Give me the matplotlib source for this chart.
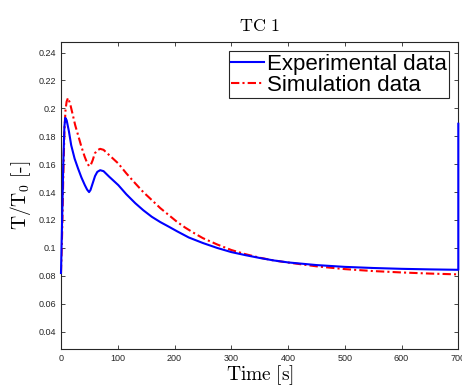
import matplotlib
matplotlib.use("Agg")
import matplotlib.pyplot as plt

# experimental data (blue)
t_exp = [0, 2, 4, 6, 7.6, 10, 14, 18, 24, 30, 36, 42, 46, 49.5, 52, 56, 60, 64,
         69, 75, 85, 101, 115, 131, 145, 160, 175, 190, 205, 225, 250, 275, 300,
         325, 350, 375, 400, 450, 500, 550, 600, 650, 700, 700]
y_exp = [0.082, 0.12, 0.16, 0.187, 0.1932, 0.1915, 0.1835, 0.1736, 0.164, 0.157,
         0.1505, 0.145, 0.1418, 0.140, 0.1415, 0.1465, 0.1515, 0.1545,
         0.1557, 0.155, 0.151, 0.145, 0.1385, 0.132, 0.127, 0.1223, 0.1185,
         0.1152, 0.1118, 0.1075, 0.1035, 0.100, 0.097,
         0.0948, 0.0928, 0.091, 0.0896, 0.0877, 0.0864, 0.0856, 0.085, 0.0846,
         0.0843, 0.189]

# simulation data (red)
t_sim = [0, 2, 4, 6, 8, 10, 12.4, 16, 21, 25, 30, 36, 41.8, 46, 49.5, 52, 56,
         59.5, 64, 69, 75, 85, 101, 115, 131, 145, 160, 175, 190, 205, 219, 235,
         250, 275, 300, 325, 350, 375, 400, 450, 500, 550, 600, 650, 700]
y_sim = [0.082, 0.11, 0.15, 0.183, 0.199, 0.205, 0.2075, 0.2035, 0.195, 0.188,
         0.181, 0.1725, 0.1653, 0.161, 0.1586, 0.159, 0.163,
         0.1677, 0.170, 0.171, 0.1703, 0.1665, 0.1605, 0.1535, 0.1462, 0.140,
         0.1343, 0.1285, 0.1235, 0.1185, 0.1145, 0.1105,
         0.107, 0.1025, 0.0985, 0.0955, 0.093, 0.091, 0.0895, 0.0868, 0.0848,
         0.0834, 0.0824, 0.0816, 0.081]

plt.rcParams['mathtext.fontset'] = 'cm'
plt.rcParams['font.family'] = 'Liberation Sans'

fig = plt.figure(figsize=(4.62, 3.90), dpi=100)
ax = fig.add_axes([0.132, 0.105, 0.860, 0.787])

ax.plot(t_exp, y_exp, color='#0000ff', linewidth=1.5, label='Experimental data',
        clip_on=False, zorder=5)
ax.plot(t_sim, y_sim, color='#ff0000', linestyle='-.', linewidth=1.5,
        dashes=(4, 1.5, 1, 1.5), label='Simulation data')

ax.set_xlim(0, 700)
ax.set_ylim(0.0275, 0.2475)
ax.set_xticks(range(0, 701, 100))
ax.set_yticks([0.04, 0.06, 0.08, 0.1, 0.12, 0.14, 0.16, 0.18, 0.2, 0.22, 0.24])
ax.set_yticklabels(['0.04', '0.06', '0.08', '0.1', '0.12', '0.14', '0.16', '0.18', '0.2', '0.22', '0.24'])
ax.tick_params(direction='in', top=True, right=True, labelsize=6.5, length=3,
               width=0.6, colors='#262626')
for s in ax.spines.values():
    s.set_color('#262626')
    s.set_linewidth(0.8)

ax.set_xlabel(r'$\mathrm{Time\ [s]}$', fontsize=14, labelpad=0)
ax.set_ylabel(r'$\mathrm{T/T_0\ [\text{-}]}$', fontsize=14, labelpad=4)
ax.set_title(r'$\mathrm{TC\ 1}$', fontsize=13, pad=8)

leg = ax.legend(loc='upper right', fontsize=16, handlelength=1.5, handletextpad=0.12,
                borderpad=0.1, labelspacing=0.0, fancybox=False, framealpha=1,
                borderaxespad=0.42)
leg.get_frame().set_edgecolor('#262626')
leg.get_frame().set_linewidth(0.8)
leg.set_zorder(6)

fig.savefig('out.png', dpi=100)
